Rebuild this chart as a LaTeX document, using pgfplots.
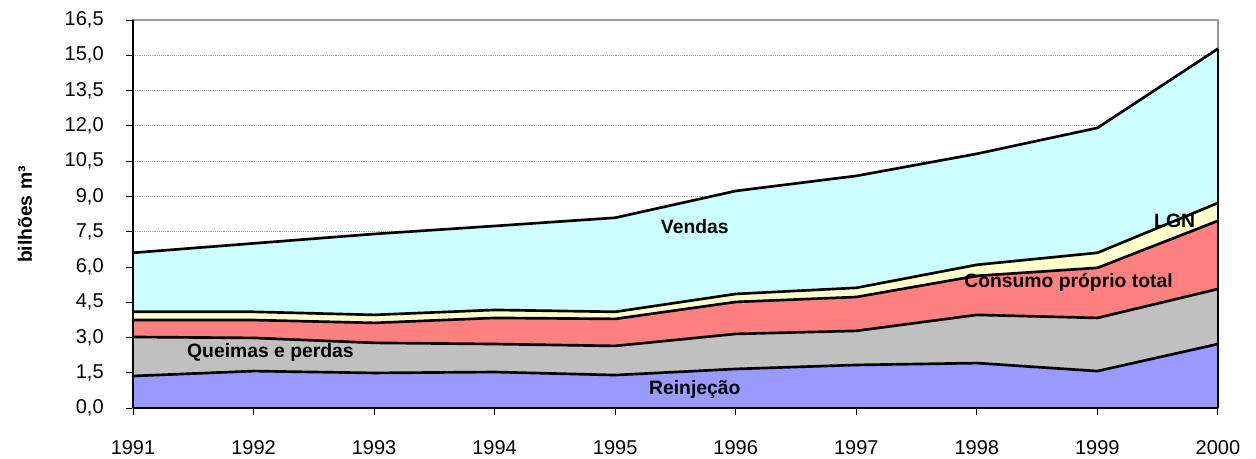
\documentclass[border=0pt]{standalone}
\usepackage{pgfplots}
\pgfplotsset{compat=1.18}
\usepgfplotslibrary{fillbetween}
\usepackage{pgfplotstable}
\usepackage{fontspec}
\setmainfont{Liberation Sans}
\definecolor{cReinj}{HTML}{9999FF}
\definecolor{cQueim}{HTML}{C0C0C0}
\definecolor{cCons}{HTML}{FF8080}
\definecolor{cLGN}{HTML}{FFFFCC}
\definecolor{cVend}{HTML}{CCFFFF}
\newcommand{\yl}[1]{#1\hspace*{13.5pt}}
% cumulative tops of each layer
\pgfplotstableread{
year zero reinj queim cons lgn vend
1991 0 1.36 3.02 3.74 4.09 6.60
1992 0 1.57 2.98 3.74 4.09 7.00
1993 0 1.49 2.77 3.62 3.96 7.40
1994 0 1.53 2.72 3.83 4.17 7.74
1995 0 1.40 2.64 3.79 4.09 8.09
1996 0 1.66 3.15 4.51 4.85 9.23
1997 0 1.83 3.28 4.72 5.11 9.87
1998 0 1.91 3.96 5.62 6.09 10.81
1999 0 1.57 3.83 5.96 6.60 11.91
2000 0 2.72 5.06 7.96 8.72 15.28
}\datatable
\begin{document}
\begin{tikzpicture}
\begin{axis}[
  at={(0,0)}, anchor=south west,
  scale only axis,
  width=813.75pt, height=291pt,
  xmin=1991, xmax=2000,
  ymin=0, ymax=16.5,
  xtick={1991,...,2000},
  ytick={0,1.5,...,16.5},
  xticklabels={1991,1992,1993,1994,1995,1996,1997,1998,1999,2000},
  yticklabels={{\yl{0,0}},{\yl{1,5}},{\yl{3,0}},{\yl{4,5}},{\yl{6,0}},{\yl{7,5}},{\yl{9,0}},{\yl{10,5}},{\yl{12,0}},{\yl{13,5}},{\yl{15,0}},{\yl{16,5}}},
  every tick label/.append style={font=\fontsize{15}{18}\selectfont},
  every x tick label/.append style={yshift=-16pt},
  tick align=outside,
  major tick length=5pt,
  tick style={black, line width=0.6pt},
  xtick pos=bottom, ytick pos=left,
  ymajorgrids,
  grid style={gray!70, densely dotted, line width=0.5pt},
  axis line style={gray!80, line width=0.8pt},
  clip=false,
]
\addplot[draw=none, name path=p0] table[x=year,y=zero]{\datatable};
\addplot[draw=none, name path=p1] table[x=year,y=reinj]{\datatable};
\addplot[draw=none, name path=p2] table[x=year,y=queim]{\datatable};
\addplot[draw=none, name path=p3] table[x=year,y=cons]{\datatable};
\addplot[draw=none, name path=p4] table[x=year,y=lgn]{\datatable};
\addplot[draw=none, name path=p5] table[x=year,y=vend]{\datatable};
\addplot[fill=cReinj, draw=none] fill between[of=p1 and p0];
\addplot[fill=cQueim, draw=none] fill between[of=p2 and p1];
\addplot[fill=cCons, draw=none] fill between[of=p3 and p2];
\addplot[fill=cLGN, draw=none] fill between[of=p4 and p3];
\addplot[fill=cVend, draw=none] fill between[of=p5 and p4];
\addplot[black, line width=2pt] table[x=year,y=reinj]{\datatable};
\addplot[black, line width=2pt] table[x=year,y=queim]{\datatable};
\addplot[black, line width=2pt] table[x=year,y=cons]{\datatable};
\addplot[black, line width=2pt] table[x=year,y=lgn]{\datatable};
\addplot[black, line width=2pt] table[x=year,y=vend]{\datatable};
\addplot[black, line width=2pt] coordinates {(2000,0) (2000,15.28)};
\addplot[black, line width=2pt] coordinates {(1991,0) (1991,16.5)};
\addplot[black, line width=2pt] coordinates {(1991,0) (2000,0)};
\node[font=\fontsize{14.5}{17}\selectfont\bfseries] at (axis cs:1995.66,7.70) {Vendas};
\node[font=\fontsize{14.5}{17}\selectfont\bfseries] at (axis cs:1992.14,2.38) {Queimas e perdas};
\node[font=\fontsize{14.5}{17}\selectfont\bfseries] at (axis cs:1995.66,0.77) {Reinjeção};
\node[font=\fontsize{14.5}{17}\selectfont\bfseries] at (axis cs:1998.76,5.32) {Consumo próprio total};
\node[font=\fontsize{14.5}{17}\selectfont\bfseries] at (axis cs:1999.64,7.96) {LGN};
\end{axis}
\node[rotate=90, font=\fontsize{14.5}{17}\selectfont\bfseries] at (-81pt,145pt) {bilhões m³};
\pgfresetboundingbox
\path[use as bounding box] (-99.75pt,-38.25pt) rectangle (842.25pt,306pt);
\end{tikzpicture}
\end{document}
